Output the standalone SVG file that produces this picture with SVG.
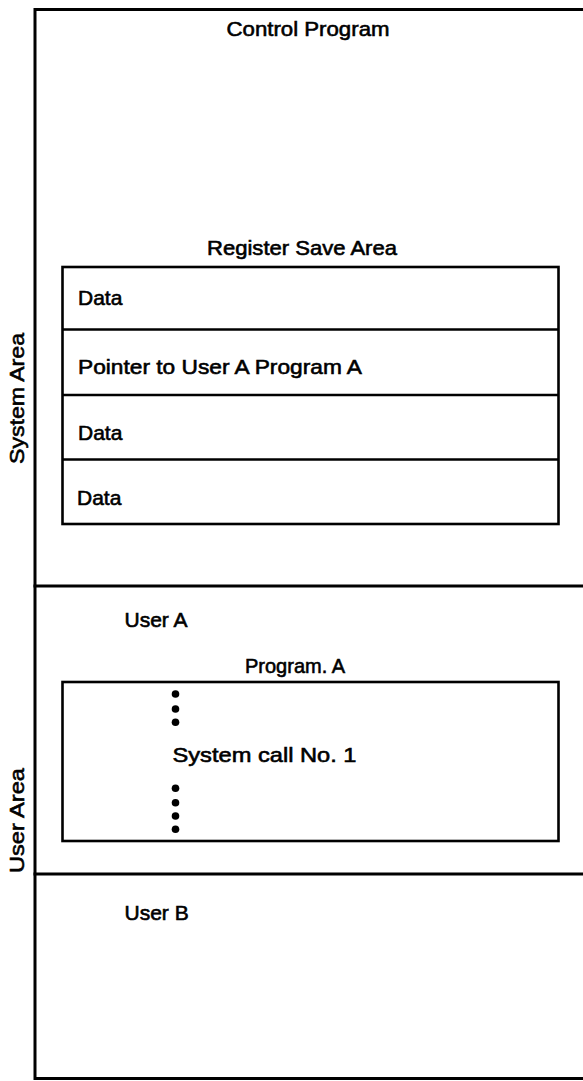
<svg xmlns="http://www.w3.org/2000/svg" width="583" height="1081" viewBox="0 0 583 1081">
<style>
  .ln { fill: none; stroke: #000; stroke-width: 3; stroke-linecap: square; }
  .bx { fill: none; stroke: #000; stroke-width: 2.6; }
  .t { font-family: "Liberation Sans", Arial, sans-serif; font-size: 21px; fill: #000; stroke: #000; stroke-width: 0.6; }
  .c { text-anchor: middle; }
  .dot { fill: #000; }
</style>
<rect width="583" height="1081" fill="#fff"/>
<g id="frame">
  <path class="ln" d="M600,9.5 H35 V1078.5 H600"/>
  <line class="ln" x1="35" y1="586" x2="600" y2="586"/>
  <line class="ln" x1="35" y1="874" x2="600" y2="874"/>
</g>
<g id="labels-side">
  <text class="t c" transform="translate(24,398.5) rotate(-90)" textLength="131" lengthAdjust="spacingAndGlyphs">System Area</text>
  <text class="t c" transform="translate(24,820.5) rotate(-90)" textLength="105" lengthAdjust="spacingAndGlyphs">User Area</text>
</g>
<g id="control-program">
  <text class="t c" x="308" y="36" textLength="163" lengthAdjust="spacingAndGlyphs">Control Program</text>
</g>
<g id="register-save-area">
  <text class="t c" x="302" y="255" textLength="190" lengthAdjust="spacingAndGlyphs">Register Save Area</text>
  <rect class="bx" x="62.5" y="267" width="496" height="257"/>
  <line class="bx" x1="62.5" y1="329.5" x2="558.5" y2="329.5"/>
  <line class="bx" x1="62.5" y1="395" x2="558.5" y2="395"/>
  <line class="bx" x1="62.5" y1="459.5" x2="558.5" y2="459.5"/>
  <text class="t" x="78" y="305">Data</text>
  <text class="t" x="78" y="374" textLength="284" lengthAdjust="spacingAndGlyphs">Pointer to User A Program A</text>
  <text class="t" x="78" y="440">Data</text>
  <text class="t" x="77" y="505">Data</text>
</g>
<g id="user-a">
  <text class="t" x="124.5" y="627">User A</text>
</g>
<g id="program-a">
  <text class="t c" x="295" y="673" textLength="100" lengthAdjust="spacingAndGlyphs">Program. A</text>
  <rect class="bx" x="62.5" y="682" width="496" height="159"/>
  <circle class="dot" cx="175.5" cy="694" r="3.8"/>
  <circle class="dot" cx="175.5" cy="709" r="3.8"/>
  <circle class="dot" cx="175.5" cy="722.3" r="3.8"/>
  <text class="t" x="172.5" y="762" textLength="184" lengthAdjust="spacingAndGlyphs">System call No. 1</text>
  <circle class="dot" cx="175.5" cy="788.3" r="3.8"/>
  <circle class="dot" cx="175.5" cy="802.7" r="3.8"/>
  <circle class="dot" cx="175.5" cy="816" r="3.8"/>
  <circle class="dot" cx="175.5" cy="829.3" r="3.8"/>
</g>
<g id="user-b">
  <text class="t" x="124.5" y="920">User B</text>
</g>
<g id="connectors"/>
</svg>
